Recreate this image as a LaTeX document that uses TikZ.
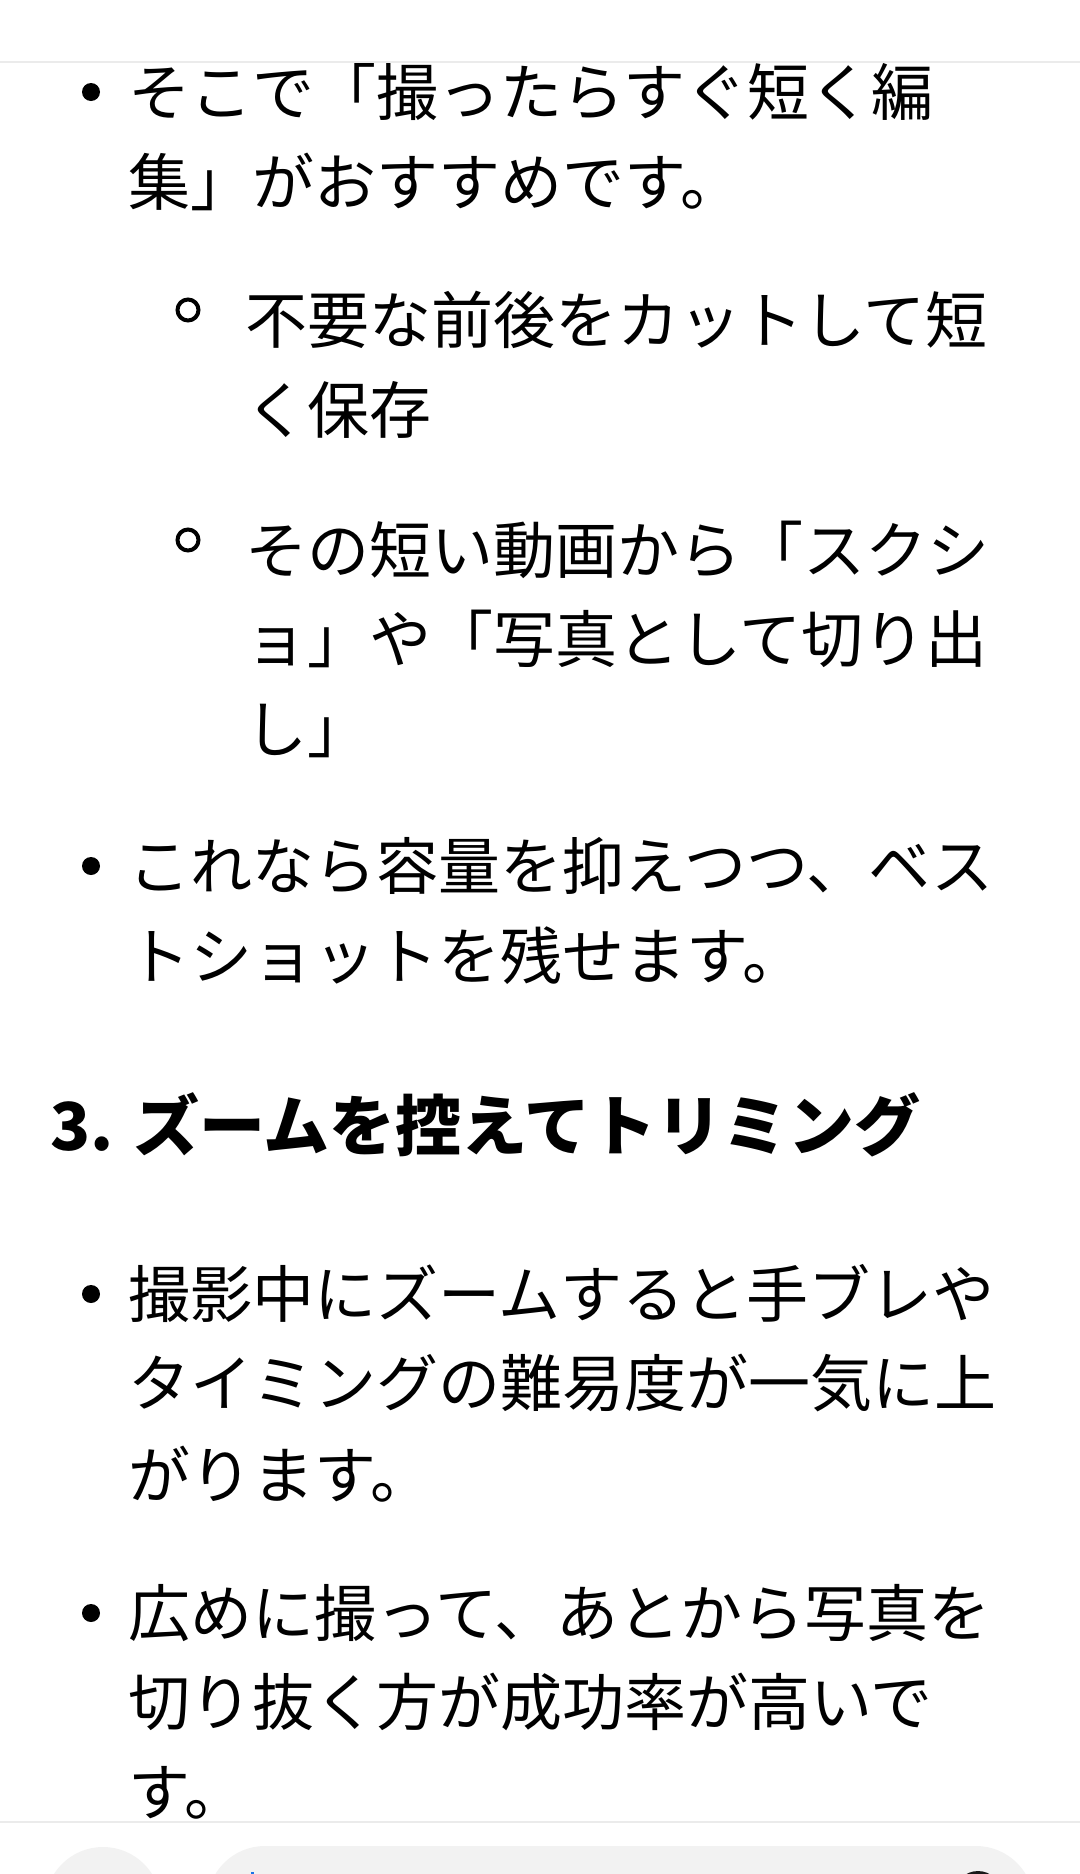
\documentclass[tikz,border=0pt]{standalone}
\usepackage{fontspec}
\setmainfont{Noto Sans CJK JP}
\definecolor{rulegray}{HTML}{EBEBEB}
\definecolor{barfill}{HTML}{F2F2F2}
\definecolor{cursorblue}{HTML}{1A73E8}
\begin{document}
\begin{tikzpicture}[x = 0.5pt, y = -0.5pt,
	bodytxt/.style = {anchor = west, inner sep = 0, text height = 27.3pt, text depth = 3.7pt, font = \fontsize{31}{31}\selectfont},
	headtxt/.style = {bodytxt, text height = 29pt, text depth = 4pt, font = \fontsize{33}{33}\selectfont\bfseries}]
	\useasboundingbox (0, 0) rectangle (1080, 1874);
	\foreach \y/\t in {92/そこで「撮ったらすぐ短く編, 182/集」がおすすめです。, 866/これなら容量を抑えつつ、ベス, 956/トショットを残せます。, 1294/撮影中にズームすると手ブレや, 1383/タイミングの難易度が一気に上, 1475/がります。, 1613/広めに撮って、あとから写真を, 1702/切り抜く方が成功率が高いで, 1792/す。}{
		\node[bodytxt] (b\y) at (128, \y) {\t};}
	\foreach \y/\t in {320/不要な前後をカットして短, 410/く保存, 550/その短い動画から「スクシ, 639/ョ」や「写真として切り出, 729/し」}{
		\node[bodytxt] (s\y) at (245, \y) {\t};}
	\node[headtxt] (h3) at (50, 1125) {3. ズームを控えてトリミング};
	\foreach \y in {92, 866, 1294, 1613}{
		\fill (91, \y) circle (4.5pt);}
	\foreach \y in {310, 540}{
		\draw[line width = 2pt] (188, \y) circle (5.25pt);}
	\fill[white] (0, 0) rectangle (1080, 62);
	\draw[rulegray, line width = 1pt] (0, 62) -- (1080, 62);
	\fill[white] (0, 1822) rectangle (1080, 1874);
	\draw[rulegray, line width = 1pt] (0, 1822) -- (1080, 1822);
	\begin{scope}
		\clip (0, 1823) rectangle (1080, 1874);
		\fill[barfill] (103, 1905) circle (29pt);
		\fill[barfill, rounded corners = 29pt] (207, 1846) rectangle (1034, 1970);
		\draw[cursorblue, line width = 1.5pt] (252, 1872) -- (252, 1890);
		\fill[black!90] (978, 1895) circle (12pt);
	\end{scope}
\end{tikzpicture}
\end{document}
